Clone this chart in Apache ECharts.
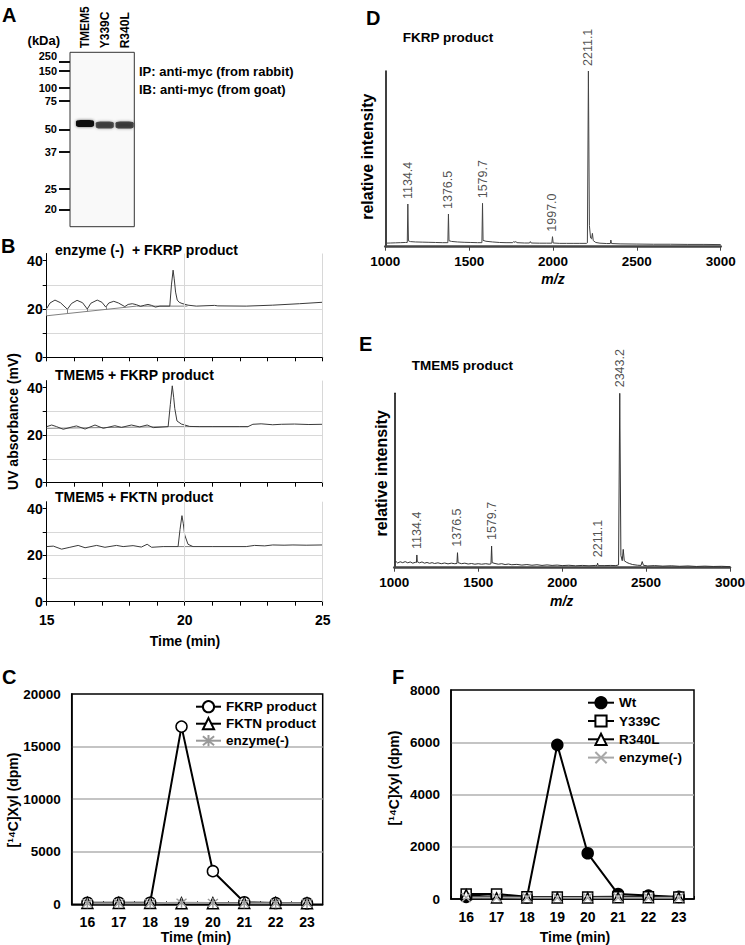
<!DOCTYPE html>
<html><head><meta charset="utf-8">
<script src="https://cdn.jsdelivr.net/npm/echarts@6/dist/echarts.min.js"></script>
<style>html,body{margin:0;padding:0;background:#fff}#c{width:745px;height:945px}</style>
</head><body><div id="c"></div>
<script>
const FONT = '"Liberation Sans", Arial, Helvetica, sans-serif';

// ---------- Panel A: western blot ----------
const laneNames = ['TMEM5', 'Y339C', 'R340L'];
const markerKDa = [250, 150, 100, 75, 50, 37, 25, 20];
const markerRf = [0.054, 0.107, 0.205, 0.278, 0.442, 0.570, 0.784, 0.900];
const bandLane = [1, 2, 3];
const bandRf = [0.408, 0.417, 0.417];
const bandIntensity = [1.0, 0.62, 0.7];

// ---------- Panel B: HPLC traces ----------
const b1Time = [15.0,15.12,15.3,15.5,15.75,15.9,16.1,16.3,16.47,16.6,16.83,17.0,17.14,17.25,17.43,17.6,17.83,17.95,18.1,18.25,18.4,18.55,18.67,18.8,18.94,19.1,19.46,19.52,19.58,19.62,19.67,19.73,19.8,19.9,20.12,20.42,21.08,21.2,22.23,23.19,24.16,25.0];
const b1Signal = [20.2,22.5,23.7,22.6,19.9,22.3,23.6,22.6,20.0,22.4,23.7,22.8,20.8,22.5,23.2,22.5,21.0,21.9,22.2,21.8,21.1,21.6,21.9,21.5,20.8,21.2,21.2,30.0,36.1,32.5,27.0,23.7,22.8,22.3,21.6,21.2,21.5,21.3,21.2,21.6,22.2,22.8];
const b1BaseTime = [15, 18.25, 20.1];
const b1BaseVal = [17.2, 21.2, 21.2];
const b1DropTime = [15, 15.75, 16.47, 17.14, 17.83];
const b1DropTop = [20.2, 19.9, 20.0, 20.8, 21.0];
const b1DropBottom = [17.2, 18.1, 19.0, 19.8, 20.7];

const b2Time = [15,15.18,15.36,15.6,15.96,16.08,16.39,16.75,17.05,17.47,17.71,18.07,18.37,18.64,18.86,19.4,19.48,19.55,19.6,19.64,19.72,19.88,20.18,20.54,21.02,21.99,22.29,22.47,22.77,23.19,23.5,23.98,24.5,25];
const b2Signal = [23.6,24.3,23.6,22.5,23.6,23.9,22.6,24.3,22.9,24.0,23.3,24.3,23.5,24.3,23.2,23.6,33.0,40.8,36.0,31.3,26.0,24.7,23.7,23.6,23.6,23.6,23.6,24.6,24.8,24.4,24.6,24.7,24.5,24.6];
const b2BaseTime = [15, 19.46, 22.3];
const b2BaseVal = [22.9, 23.6, 23.6];

const b3Time = [15,15.24,15.54,15.84,16.14,16.39,16.81,17.11,17.53,17.77,18.13,18.43,18.64,18.8,19.22,19.76,19.83,19.9,19.95,20.0,20.12,20.3,21.02,22.23,22.53,22.9,23.19,23.6,23.92,24.4,25];
const b3Signal = [23.7,23.9,22.6,23.4,24.2,23.2,24.2,23.4,24.2,23.7,24.1,23.5,24.7,23.4,23.7,23.7,31.0,37.0,33.5,28.7,24.7,23.7,23.7,23.7,24.2,24.0,24.4,24.3,24.4,24.3,24.4];
const b3BaseTime = [19.76, 20.3];
const b3BaseVal = [23.7, 23.7];
const bTickLabels = [15, 20, 25];

// ---------- Panel C ----------
const timeCats = ['16','17','18','19','20','21','22','23'];
const cFKRP = [150,150,150,16900,3150,200,120,100];
const cFKTN = [120,120,120,100,100,120,120,100];
const cEnzyme = [100,100,100,150,120,100,100,100];

// ---------- Panel D: FKRP product MS ----------
const dMz = [1000,1030,1060,1090,1120,1131,1134.4,1138,1150,1180,1220,1260,1300,1340,1373,1376.5,1380,1395,1430,1470,1510,1550,1576,1579.7,1583,1600,1640,1680,1720,1760,1767,1772,1778,1784,1830,1860,1865,1870,1920,1960,1993,1997.0,2001,2040,2080,2120,2160,2200,2205,2211.1,2217,2224,2230,2235,2240,2255,2280,2320,2342,2345,2349,2400,2500,2600,2700,2800,2900,3000];
const dInt = [2.0,2.1,2.2,2.3,2.4,2.4,24.3,3.3,2.9,2.7,2.6,2.5,2.4,2.3,2.3,18.6,3.4,3.0,2.7,2.5,2.4,2.3,2.3,24.7,3.6,3.1,2.7,2.4,2.3,2.3,3.0,2.4,3.0,2.3,2.1,2.1,2.9,2.1,2.0,2.0,2.0,5.7,2.1,1.9,1.9,1.9,1.9,1.9,2.2,100,12,5,4.5,7.6,3.5,2.4,2.0,1.8,1.8,3.8,1.8,1.6,1.5,1.4,1.4,1.3,1.3,1.2];
const dPeakMz = [1134.4, 1376.5, 1579.7, 1997.0, 2211.1];
const dPeakInt = [24.3, 18.6, 24.7, 5.7, 100];

// ---------- Panel E: TMEM5 product MS ----------
const eMz = [1000,1010,1020,1035,1050,1065,1080,1095,1110,1125,1132,1134.4,1137,1150,1165,1180,1195,1210,1225,1240,1260,1280,1300,1320,1340,1360,1373,1376.5,1380,1400,1420,1440,1460,1480,1500,1520,1545,1565,1576,1579.7,1583,1600,1620,1640,1660,1680,1700,1730,1760,1790,1820,1850,1880,1910,1940,1970,2000,2040,2080,2120,2160,2200,2208,2211.1,2215,2250,2290,2320,2336,2343.2,2350,2358,2364,2370,2385,2400,2420,2450,2470,2477,2484,2510,2550,2600,2650,2700,2750,2800,2850,2900,2950,3000];
const eInt = [3.0,3.6,2.7,3.4,2.9,3.5,2.8,3.3,2.6,3.1,3.0,7.3,3.4,2.8,3.3,2.6,3.0,2.5,2.9,2.4,2.8,2.3,2.7,2.2,2.6,2.3,2.4,8.6,2.9,2.3,2.6,2.1,2.4,2.0,2.3,2.0,2.3,2.0,2.2,12.4,2.9,2.4,2.0,2.3,1.8,2.1,1.7,1.9,1.5,1.8,1.4,1.7,1.3,1.6,1.3,1.5,1.2,1.4,1.1,1.3,1.1,1.3,1.2,2.6,1.2,1.2,1.3,1.2,1.6,100,7,4,10.5,4,3,2.4,1.8,1.4,1.3,3.5,1.4,1.0,1.2,0.9,1.1,0.8,1.0,0.7,0.9,0.7,0.8,0.6];
const ePeakMz = [1134.4, 1376.5, 1579.7, 2211.1, 2343.2];
const ePeakInt = [7.3, 8.6, 12.4, 2.6, 100];

// ---------- Panel F ----------
const fWt = [80,110,60,5900,1750,190,130,80];
const fY339C = [190,190,90,80,80,90,90,80];
const fR340L = [170,40,40,40,40,50,50,50];
const fEnzyme = [60,60,50,50,50,50,50,50];

// ---------- helpers ----------
const zip = (a, b) => a.map((v, i) => [v, b[i]]);
const txt = (x, y, text, o = {}) => ({
  type: 'text', x, y, rotation: o.rot || 0, silent: true,
  style: {
    text, fill: o.color || '#000', fontFamily: FONT, fontSize: o.size || 14,
    fontWeight: o.weight || 'bold', fontStyle: o.italic ? 'italic' : 'normal',
    align: o.align || 'left', verticalAlign: 'middle'
  }
});
const lbl = (size) => ({ fontFamily: FONT, fontWeight: 'bold', fontSize: size, color: '#000' });

// grids: 0 A, 1-3 B, 4 C, 5 D, 6 E, 7 F
const grids = [
  { left: 70, top: 52.3, width: 64.3, height: 174.4, show: true, borderColor: '#333', borderWidth: 1, backgroundColor: '#f9f9f9' },
  { left: 46.7, top: 253.5, width: 276, height: 103.8 },
  { left: 46.7, top: 380.6, width: 276, height: 102.1 },
  { left: 46.7, top: 501.7, width: 276, height: 100 },
  { left: 71.7, top: 694, width: 251, height: 210.3, show: true, borderColor: '#000', borderWidth: 1.5 },
  { left: 385.3, top: 71, width: 335.4, height: 175.7 },
  { left: 394.3, top: 393.3, width: 335.7, height: 174.4 },
  { left: 451, top: 690, width: 243, height: 209, show: true, borderColor: '#000', borderWidth: 1.5 }
].map(g => Object.assign({ containLabel: false, outerBoundsMode: 'none' }, g));

const bX = (gi, showLabels) => ({
  type: 'value', gridIndex: gi, min: 15, max: 25, interval: 1,
  axisLine: { show: true, onZero: false, lineStyle: { color: '#000', width: 1 } },
  axisTick: { show: true, length: 4, lineStyle: { color: '#000' } },
  axisLabel: Object.assign({ show: showLabels, customValues: bTickLabels, margin: 11 }, lbl(14)),
  splitLine: { show: false }
});
const bY = (gi) => ({
  type: 'value', gridIndex: gi, min: 0, max: 43, interval: 10,
  axisLine: { show: true, lineStyle: { color: '#000', width: 1 } },
  axisTick: { show: true, length: 4, customValues: [0, 10, 20, 30, 40], lineStyle: { color: '#000' } },
  axisLabel: Object.assign({ customValues: [0, 20, 40], margin: 4 }, lbl(14)),
  splitLine: { show: true, showMaxLine: false, lineStyle: { color: '#d8d8d8', width: 1 } }
});
const catX = (gi) => ({
  type: 'category', gridIndex: gi, data: timeCats, boundaryGap: true,
  axisLine: { show: true, lineStyle: { color: '#000', width: 1.5 } },
  axisTick: { show: true, inside: true, length: 3, lineStyle: { color: '#000' } },
  axisLabel: Object.assign({ margin: 11 }, lbl(14)),
  splitLine: { show: false }
});
const valY = (gi, max, interval, margin) => ({
  type: 'value', gridIndex: gi, min: 0, max, interval,
  axisLine: { show: true, lineStyle: { color: '#000', width: 1.5 } },
  axisTick: { show: false },
  axisLabel: Object.assign({ margin, formatter: v => String(v) }, lbl(13.5)),
  splitLine: { show: true, showMinLine: false, showMaxLine: false, lineStyle: { color: '#b0b0b0', width: 1.5 } }
});
const msX = (gi) => ({
  type: 'value', gridIndex: gi, min: 1000, max: 3000, interval: 500,
  axisLine: { show: true, onZero: false, lineStyle: { color: '#444', width: 2.5 } },
  axisTick: { show: true, length: 4, lineStyle: { color: '#444', width: 1 } },
  axisLabel: Object.assign({ margin: 8, formatter: v => String(v) }, lbl(13.5)),
  splitLine: { show: false }
});
const msY = (gi) => ({
  type: 'value', gridIndex: gi, min: 0, max: 100,
  axisLine: { show: true, lineStyle: { color: '#000', width: 1.5 } },
  axisTick: { show: false }, axisLabel: { show: false }, splitLine: { show: false }
});
// marker ladder axis (split in two so that the close 250/150 labels are both kept)
const ladderY = (vals, extra) => ({
  type: 'value', gridIndex: 0, inverse: true, min: 0, max: 1, position: 'left',
  axisLine: { show: false }, splitLine: { show: false },
  axisTick: { show: true, customValues: vals, length: 11, lineStyle: { color: '#111', width: 2 } },
  axisLabel: Object.assign({ customValues: vals, margin: 13, formatter: v => String(markerKDa[markerRf.indexOf(v)]) }, lbl(11), extra)
});

const xAxes = [
  { type: 'value', gridIndex: 0, position: 'top', min: 0.2424, max: 3.49,
    axisLine: { show: false }, axisTick: { show: false }, splitLine: { show: false },
    axisLabel: Object.assign({ customValues: bandLane, rotate: 90, margin: 4, formatter: v => laneNames[bandLane.indexOf(v)] }, lbl(12)) },
  bX(1, false), bX(2, false), bX(3, true),
  catX(4), msX(5), msX(6), catX(7)
];
const yAxes = [
  ladderY(markerRf.slice(1), { padding: [3, 0, 0, 0] }),
  bY(1), bY(2), bY(3),
  valY(4, 20000, 5000, 11), msY(5), msY(6), valY(7, 8000, 2000, 11),
  ladderY(markerRf.slice(0, 1), { verticalAlign: 'bottom', lineHeight: 12 })
];

const trace = (i, t, v) => ({
  type: 'line', xAxisIndex: i, yAxisIndex: i, data: zip(t, v), symbol: 'none', z: 4,
  lineStyle: { color: '#3a3a3a', width: 1 },
  markLine: { silent: true, symbol: ['none', 'none'], label: { show: false }, animation: false,
    lineStyle: { color: '#d8d8d8', width: 1, type: 'solid' }, data: [{ xAxis: 20 }, { xAxis: 25 }] }
});
const baseLine = (i, t, v, drops) => ({
  type: 'line', xAxisIndex: i, yAxisIndex: i, data: zip(t, v), symbol: 'none', z: 3,
  lineStyle: { color: '#808080', width: 1 },
  markLine: drops ? { silent: true, symbol: ['none', 'none'], label: { show: false }, animation: false,
    lineStyle: { color: '#808080', width: 1, type: 'solid' }, data: drops } : undefined
});
const b1Drops = b1DropTime.map((t, i) => [{ coord: [t, b1DropTop[i]] }, { coord: [t, b1DropBottom[i]] }]);

const ptSeries = (i, name, data, sym, size, fill, stroke) => ({
  type: 'line', name, xAxisIndex: i, yAxisIndex: i, data, symbol: sym, symbolSize: size, showSymbol: true,
  lineStyle: { color: stroke, width: 2 },
  itemStyle: { color: fill, borderColor: stroke, borderWidth: 1.5 }
});
const STAR = 'path://M1,1L9,9M9,1L1,9M5,0L5,10';
const XMARK = 'path://M1,1L9,9M9,1L1,9';

const peakLabels = (i, mz, inten, dist) => ({
  type: 'scatter', xAxisIndex: i, yAxisIndex: i, data: zip(mz, inten), symbolSize: 2, z: 5,
  itemStyle: { color: 'rgba(0,0,0,0)' },
  label: { show: true, position: 'top', distance: dist, rotate: 90, align: 'left', verticalAlign: 'middle',
    formatter: p => p.value[0].toFixed(1), fontFamily: FONT, fontSize: 12.5, color: '#222' }
});

const series = [
  { type: 'scatter', xAxisIndex: 0, yAxisIndex: 0, symbol: 'roundRect', symbolSize: [18, 7],
    data: bandLane.map((l, i) => ({ value: [l, bandRf[i]], itemStyle: { opacity: bandIntensity[i] } })),
    itemStyle: { color: '#0a0a0a', shadowBlur: 3, shadowColor: 'rgba(0,0,0,0.6)' } },
  trace(1, b1Time, b1Signal), baseLine(1, b1BaseTime, b1BaseVal, b1Drops),
  trace(2, b2Time, b2Signal), baseLine(2, b2BaseTime, b2BaseVal),
  trace(3, b3Time, b3Signal), baseLine(3, b3BaseTime, b3BaseVal),
  ptSeries(4, 'FKRP product', cFKRP, 'circle', 11, '#fff', '#000'),
  ptSeries(4, 'FKTN product', cFKTN, 'triangle', 11, '#fff', '#000'),
  ptSeries(4, 'enzyme(-)', cEnzyme, STAR, 10, '#999', '#999'),
  { type: 'line', xAxisIndex: 5, yAxisIndex: 5, data: zip(dMz, dInt), symbol: 'none', lineStyle: { color: '#444', width: 1 } },
  peakLabels(5, dPeakMz, dPeakInt, 4),
  { type: 'line', xAxisIndex: 6, yAxisIndex: 6, data: zip(eMz, eInt), symbol: 'none', lineStyle: { color: '#333', width: 1 } },
  peakLabels(6, ePeakMz, ePeakInt, 5),
  ptSeries(7, 'Wt', fWt, 'circle', 11, '#000', '#000'),
  ptSeries(7, 'Y339C', fY339C, 'rect', 10, '#fff', '#000'),
  ptSeries(7, 'R340L', fR340L, 'triangle', 10, '#fff', '#000'),
  ptSeries(7, 'enzyme(-) ', fEnzyme, XMARK, 9, '#a8a8a8', '#a8a8a8')
];

const legendText = { fontFamily: FONT, fontWeight: 'bold', fontSize: 13.5, color: '#000', lineHeight: 14 };
const legends = [
  { left: 195, top: 699.7, orient: 'vertical', itemWidth: 25, itemHeight: 14, itemGap: 3, padding: 0,
    selectedMode: false, data: ['FKRP product', 'FKTN product', 'enzyme(-)'], textStyle: legendText },
  { left: 587, top: 695.7, orient: 'vertical', itemWidth: 26, itemHeight: 14, itemGap: 4.3, padding: 0,
    selectedMode: false, data: ['Wt', 'Y339C', 'R340L', 'enzyme(-) '], formatter: n => n.trim(), textStyle: legendText }
];

const graphics = [
  txt(2, 15, 'A', { size: 20 }),
  txt(43.8, 40, '(kDa)', { size: 13, align: 'center' }),
  txt(139, 71, 'IP: anti-myc (from rabbit)', { size: 13 }),
  txt(139, 89, 'IB: anti-myc (from goat)', { size: 13 }),
  txt(1, 246, 'B', { size: 20 }),
  txt(55, 250, 'enzyme (-)  + FKRP product', { size: 14 }),
  txt(55, 375, 'TMEM5 + FKRP product', { size: 14 }),
  txt(55, 497.3, 'TMEM5 + FKTN product', { size: 14 }),
  txt(12.5, 421.5, 'UV absorbance (mV)', { size: 14, align: 'center', rot: Math.PI / 2 }),
  txt(185, 641, 'Time (min)', { size: 14, align: 'center' }),
  txt(2, 677, 'C', { size: 20 }),
  txt(12.5, 800, '[¹⁴C]Xyl (dpm)', { size: 14, align: 'center', rot: Math.PI / 2 }),
  txt(196, 936.7, 'Time (min)', { size: 14, align: 'center' }),
  txt(366, 17.5, 'D', { size: 20 }),
  txt(402.7, 37.7, 'FKRP product', { size: 13.5 }),
  txt(367.5, 156.7, 'relative intensity', { size: 16, align: 'center', rot: Math.PI / 2 }),
  txt(553, 279.3, 'm/z', { size: 14, align: 'center', italic: true }),
  txt(359, 344, 'E', { size: 20 }),
  txt(411.7, 365, 'TMEM5 product', { size: 13.5 }),
  txt(381, 473.3, 'relative intensity', { size: 16, align: 'center', rot: Math.PI / 2 }),
  txt(561.7, 601, 'm/z', { size: 14, align: 'center', italic: true }),
  txt(392, 677, 'F', { size: 20 }),
  txt(394, 778, '[¹⁴C]Xyl (dpm)', { size: 14, align: 'center', rot: Math.PI / 2 }),
  txt(575, 936.7, 'Time (min)', { size: 14, align: 'center' })
];

const chart = echarts.init(document.getElementById('c'), null, { renderer: 'svg', width: 745, height: 945 });
chart.setOption({
  animation: false,
  backgroundColor: '#fff',
  textStyle: { fontFamily: FONT },
  grid: grids, xAxis: xAxes, yAxis: yAxes, series, legend: legends,
  graphic: { elements: graphics }
});
</script></body></html>
